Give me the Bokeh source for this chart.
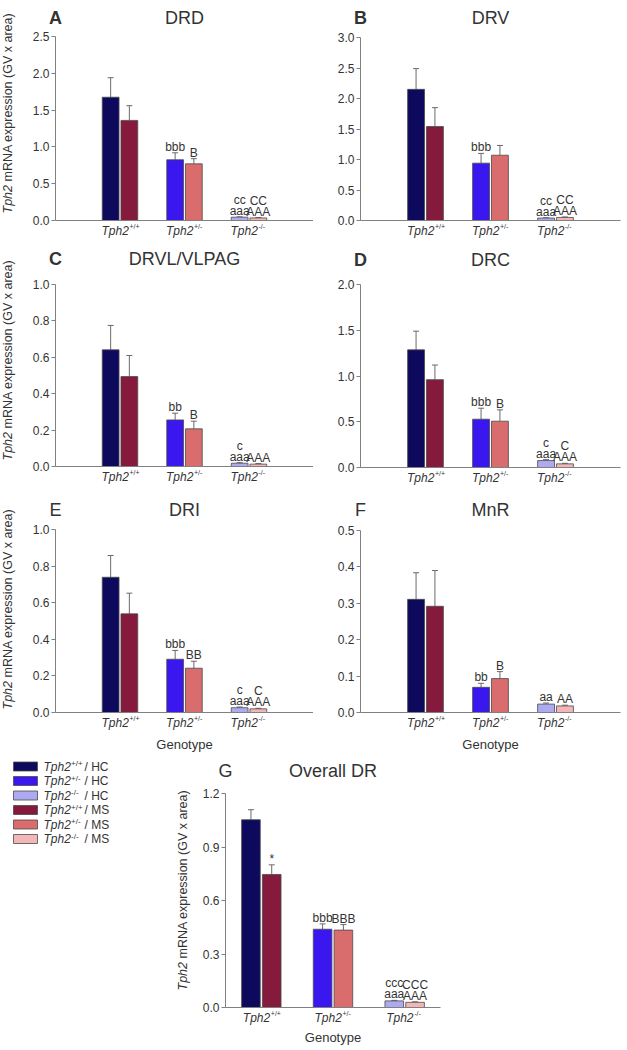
import math
from bokeh.plotting import figure
from bokeh.models import (Range1d, FixedTicker, NumeralTickFormatter, Label, LabelSet,
                          ColumnDataSource, Whisker, TeeHead)
from bokeh.layouts import column, row
from bokeh.embed import file_html
from bokeh.resources import INLINE
from bokeh.core.properties import value

FONT = "Liberation Sans"
TXT = "#333333"
AX = "#808080"
EDGE = "#4a4a4a"

# ---------------- data ----------------
genotype_base = ["Tph2", "Tph2", "Tph2"]
genotype_sup = ["+/+", "+/-", "-/-"]
conditions = ["HC", "MS"]
group_x = [1, 2, 3]          # panels A-F
group_x_g = [0.5, 1.5, 2.5]  # panel G

hc_colors = ["#0d0a5e", "#3a16ef", "#aeaaf2"]
ms_colors = ["#861a3d", "#d96c6c", "#f2b6b6"]

# A  DRD
drd_hc = [1.675, 0.825, 0.045]
drd_hc_sem = [0.265, 0.095, 0.005]
drd_ms = [1.36, 0.77, 0.035]
drd_ms_sem = [0.20, 0.07, 0.005]
drd_hc_lo = ["", "bbb", "aaa"]
drd_hc_hi = ["", "", "cc"]
drd_ms_lo = ["", "B", "AAA"]
drd_ms_hi = ["", "", "CC"]

# B  DRV
drv_hc = [2.15, 0.94, 0.04]
drv_hc_sem = [0.34, 0.16, 0.005]
drv_ms = [1.54, 1.07, 0.05]
drv_ms_sem = [0.31, 0.16, 0.008]
drv_hc_lo = ["", "bbb", "aaa"]
drv_hc_hi = ["", "", "cc"]
drv_ms_lo = ["", "", "AAA"]
drv_ms_hi = ["", "", "CC"]

# C  DRVL/VLPAG
drvl_hc = [0.641, 0.256, 0.018]
drvl_hc_sem = [0.134, 0.037, 0.003]
drvl_ms = [0.494, 0.207, 0.013]
drvl_ms_sem = [0.116, 0.042, 0.003]
drvl_hc_lo = ["", "bb", "aaa"]
drvl_hc_hi = ["", "", "c"]
drvl_ms_lo = ["", "B", "AAA"]
drvl_ms_hi = ["", "", ""]

# D  DRC
drc_hc = [1.286, 0.528, 0.076]
drc_hc_sem = [0.204, 0.12, 0.01]
drc_ms = [0.96, 0.506, 0.04]
drc_ms_sem = [0.16, 0.124, 0.006]
drc_hc_lo = ["", "bbb", "aaa"]
drc_hc_hi = ["", "", "c"]
drc_ms_lo = ["", "B", "AAA"]
drc_ms_hi = ["", "", "C"]

# E  DRI
dri_hc = [0.739, 0.291, 0.026]
dri_hc_sem = [0.119, 0.048, 0.004]
dri_ms = [0.539, 0.242, 0.02]
dri_ms_sem = [0.113, 0.038, 0.003]
dri_hc_lo = ["", "bbb", "aaa"]
dri_hc_hi = ["", "", "c"]
dri_ms_lo = ["", "BB", "AAA"]
dri_ms_hi = ["", "", "C"]

# F  MnR
mnr_hc = [0.31, 0.069, 0.023]
mnr_hc_sem = [0.073, 0.011, 0.003]
mnr_ms = [0.291, 0.093, 0.018]
mnr_ms_sem = [0.098, 0.019, 0.002]
mnr_hc_lo = ["", "bb", "aa"]
mnr_hc_hi = ["", "", ""]
mnr_ms_lo = ["", "B", "AA"]
mnr_ms_hi = ["", "", ""]

# G  Overall DR
all_hc = [1.053, 0.439, 0.037]
all_hc_sem = [0.056, 0.03, 0.003]
all_ms = [0.746, 0.434, 0.029]
all_ms_sem = [0.054, 0.031, 0.003]
all_hc_lo = ["", "bbb", "aaa"]
all_hc_hi = ["", "", "ccc"]
all_ms_lo = ["*", "BBB", "AAA"]
all_ms_hi = ["", "", "CCC"]

BAR_W = 0.26
OFF = 0.145


def add_label(p, x, y, text, dx, dy, size, style="normal", align="center",
              baseline="middle", angle=0.0):
    p.add_layout(Label(x=x, y=y, x_offset=dx, y_offset=dy, text=text,
                       text_font=FONT, text_font_size=f"{size}px",
                       text_font_style=style, text_color=TXT,
                       text_align=align, text_baseline=baseline, angle=angle))


def make_panel(fig_rect, axis_rect, xmax, gx, ymax, yticks,
               letter, letter_style, title, title_dy,
               hc, hc_sem, ms, ms_sem, hc_lo, hc_hi, ms_lo, ms_hi,
               ylabel=False, ylab_dx=-48, ylab_dy=7, xlabel=None, xlab_standoff=24):
    fx, fy, fw, fh = fig_rect          # figure box (page pixels)
    ax0, ax1, ay_top, ay_bot = axis_rect  # where x=0..xmax and y=ymax..0 sit (page pixels)
    sx = (ax1 - ax0) / xmax
    sy = (ay_bot - ay_top) / ymax
    x_range = Range1d((fx - ax0) / sx, (fx + fw - ax0) / sx)
    y_range = Range1d((ay_bot - (fy + fh)) / sy, (ay_bot - fy) / sy)

    p = figure(width=fw, height=fh, x_range=x_range, y_range=y_range,
               output_backend="svg", toolbar_location=None, title=None,
               min_border=0, min_border_left=0, min_border_right=0,
               min_border_top=0, min_border_bottom=0)
    p.outline_line_color = None
    p.grid.visible = False
    p.background_fill_color = "white"

    # y axis, pinned at x = 0
    yax = p.yaxis[0]
    yax.fixed_location = 0
    yax.bounds = (0, ymax)
    yax.ticker = FixedTicker(ticks=yticks)
    yax.formatter = NumeralTickFormatter(format="0.0")
    yax.axis_line_color = AX
    yax.major_tick_line_color = AX
    yax.major_tick_in = 0
    yax.major_tick_out = 4
    yax.minor_tick_line_color = None
    yax.major_label_standoff = 2
    yax.major_label_text_font = FONT
    yax.major_label_text_font_size = "12px"
    yax.major_label_text_color = TXT

    # x axis (line only), pinned at y = 0
    xax = p.xaxis[0]
    xax.fixed_location = 0
    xax.bounds = (0, xmax)
    xax.ticker = FixedTicker(ticks=[])
    xax.axis_line_color = AX
    xax.major_tick_line_color = None
    xax.minor_tick_line_color = None
    xax.major_tick_out = 0
    xax.major_label_text_font_size = "0px"
    if xlabel:
        xax.axis_label = xlabel
        xax.axis_label_text_font = FONT
        xax.axis_label_text_font_size = "13px"
        xax.axis_label_text_font_style = "normal"
        xax.axis_label_text_color = TXT
        xax.axis_label_standoff = xlab_standoff

    xs = [g - OFF for g in gx] + [g + OFF for g in gx]
    tops = list(hc) + list(ms)
    sems = list(hc_sem) + list(ms_sem)
    src = ColumnDataSource(dict(
        x=xs, top=tops,
        upper=[t + s for t, s in zip(tops, sems)],
        color=hc_colors + ms_colors,
        lo=list(hc_lo) + list(ms_lo),
        hi=list(hc_hi) + list(ms_hi),
    ))
    p.vbar(x="x", top="top", width=BAR_W, bottom=0, source=src,
           fill_color="color", line_color=EDGE, line_width=0.8)
    p.add_layout(Whisker(base="x", lower="top", upper="upper", source=src,
                         dimension="height", line_color="#6a6a6a", line_width=1,
                         lower_head=None,
                         upper_head=TeeHead(size=6, line_color="#6a6a6a", line_width=1)))
    for col, dy in (("lo", 2), ("hi", 13)):
        p.add_layout(LabelSet(x="x", y="upper", text=col, source=src,
                              y_offset=dy, text_align="center",
                              text_baseline="alphabetic",
                              text_font=value(FONT), text_font_size="12px",
                              text_color=TXT))

    # genotype tick labels (italic name + superscript)
    tsrc = ColumnDataSource(dict(x=list(gx), y=[0, 0, 0],
                                 base=genotype_base, sup=genotype_sup))
    p.add_layout(LabelSet(x="x", y="y", text="base", source=tsrc,
                          x_offset=-18.5, y_offset=-3, text_align="left",
                          text_baseline="top", text_font=value(FONT),
                          text_font_size="12px", text_font_style="italic",
                          text_color=TXT))
    p.add_layout(LabelSet(x="x", y="y", text="sup", source=tsrc,
                          x_offset=9.5, y_offset=-2, text_align="left",
                          text_baseline="top", text_font=value(FONT),
                          text_font_size="7px", text_color=TXT))

    # panel letter and title
    add_label(p, 0, ymax, letter, 0, title_dy, 18, style=letter_style)
    add_label(p, xmax / 2.0, ymax, title, 0, title_dy, 18)

    # y-axis title: italic "Tph2" + rest
    if ylabel:
        add_label(p, 0, 0, "Tph2", ylab_dx, ylab_dy, 12.5, style="italic",
                  align="left", angle=math.pi / 2)
        add_label(p, 0, 0, "mRNA expression (GV x area)", ylab_dx, ylab_dy + 32, 12.5,
                  align="left", angle=math.pi / 2)
    return p


pA = make_panel((0, 0, 313, 245), (55, 313, 36, 220), 4, group_x, 2.5,
                [0, 0.5, 1.0, 1.5, 2.0, 2.5], "A", "bold", "DRD", 19,
                drd_hc, drd_hc_sem, drd_ms, drd_ms_sem,
                drd_hc_lo, drd_hc_hi, drd_ms_lo, drd_ms_hi, ylabel=True, ylab_dy=7)
pB = make_panel((313, 0, 314, 245), (360, 620, 37, 220), 4, group_x, 3.0,
                [0, 0.5, 1.0, 1.5, 2.0, 2.5, 3.0], "B", "bold", "DRV", 20,
                drv_hc, drv_hc_sem, drv_ms, drv_ms_sem,
                drv_hc_lo, drv_hc_hi, drv_ms_lo, drv_ms_hi)
pC = make_panel((0, 245, 313, 250), (55, 313, 284, 466), 4, group_x, 1.0,
                [0, 0.2, 0.4, 0.6, 0.8, 1.0], "C", "bold", "DRVL/VLPAG", 26,
                drvl_hc, drvl_hc_sem, drvl_ms, drvl_ms_sem,
                drvl_hc_lo, drvl_hc_hi, drvl_ms_lo, drvl_ms_hi, ylabel=True, ylab_dy=6)
pD = make_panel((313, 245, 314, 250), (360, 620, 284, 467), 4, group_x, 2.0,
                [0, 0.5, 1.0, 1.5, 2.0], "D", "bold", "DRC", 25,
                drc_hc, drc_hc_sem, drc_ms, drc_ms_sem,
                drc_hc_lo, drc_hc_hi, drc_ms_lo, drc_ms_hi)
pE = make_panel((0, 495, 313, 257), (55, 313, 529, 712), 4, group_x, 1.0,
                [0, 0.2, 0.4, 0.6, 0.8, 1.0], "E", "normal", "DRI", 20,
                dri_hc, dri_hc_sem, dri_ms, dri_ms_sem,
                dri_hc_lo, dri_hc_hi, dri_ms_lo, dri_ms_hi, ylabel=True, ylab_dy=3,
                xlabel="Genotype")
pF = make_panel((313, 495, 314, 257), (360, 620, 529.5, 712), 4, group_x, 0.5,
                [0, 0.1, 0.2, 0.3, 0.4, 0.5], "F", "normal", "MnR", 20,
                mnr_hc, mnr_hc_sem, mnr_ms, mnr_ms_sem,
                mnr_hc_lo, mnr_hc_hi, mnr_ms_lo, mnr_ms_hi, xlabel="Genotype")
pG = make_panel((165, 752, 295, 298), (225, 440, 793, 1007), 3, group_x_g, 1.2,
                [0, 0.3, 0.6, 0.9, 1.2], "G", "normal", "Overall DR", 23,
                all_hc, all_hc_sem, all_ms, all_ms_sem,
                all_hc_lo, all_hc_hi, all_ms_lo, all_ms_hi, ylabel=True,
                ylab_dx=-43, ylab_dy=17, xlabel="Genotype", xlab_standoff=22)

# ---------------- legend ----------------
LEG_W, LEG_H = 165, 298
leg = figure(width=LEG_W, height=LEG_H, x_range=Range1d(0, LEG_W), y_range=Range1d(LEG_H, 0),
             output_backend="svg", toolbar_location=None, title=None,
             min_border=0, x_axis_type=None, y_axis_type=None)
leg.outline_line_color = None
leg.grid.visible = False
legend_colors = hc_colors + ms_colors
legend_sup = genotype_sup * 2
legend_cond = ["/ " + conditions[0]] * 3 + ["/ " + conditions[1]] * 3
ys = [14 + 14.5 * i for i in range(6)]
leg.rect(x=25, y=ys, width=24, height=9, fill_color=legend_colors, line_color=EDGE,
         line_width=0.8)
leg.text(x=43, y=ys, text=["Tph2"] * 6, text_font=value(FONT), text_font_size="12px",
         text_font_style="italic", text_baseline="middle", text_color=TXT)
leg.text(x=70.5, y=[y - 3 for y in ys], text=legend_sup, text_font=value(FONT),
         text_font_size="8px", text_baseline="middle", text_color=TXT)
leg.text(x=84, y=ys, text=legend_cond, text_font=value(FONT), text_font_size="12px",
         text_baseline="middle", text_color=TXT)

layout = column(row(pA, pB), row(pC, pD), row(pE, pF), row(leg, pG))
open("out.html", "w").write(file_html(layout, INLINE))
